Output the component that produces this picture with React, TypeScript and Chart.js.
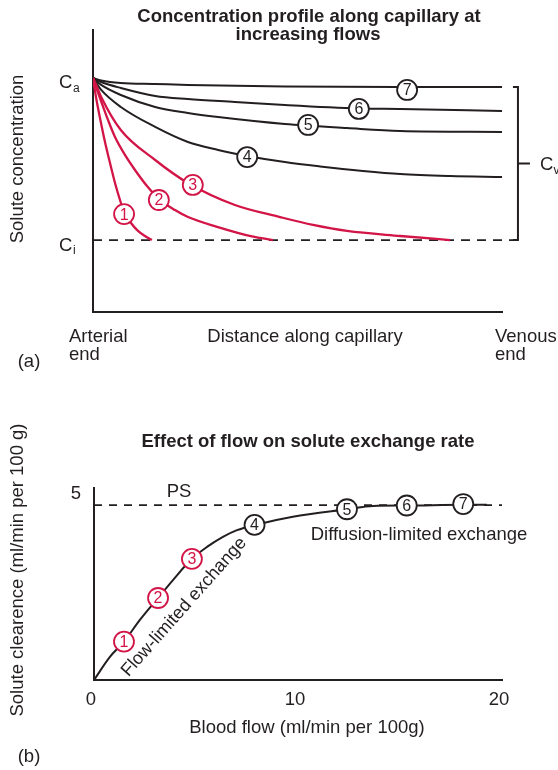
import React, { useEffect, useRef } from "react";
import { Chart, registerables } from "chart.js";

Chart.register(...registerables);

const FONT = "'Liberation Sans', Arial, Helvetica, sans-serif";
const INK = "#231f20";
const RED = "#d21446";

// ---------------- (a) Concentration profile ----------------
const topTitle = ["Concentration profile along capillary at", "increasing flows"];
const topYTitle = "Solute concentration";
const topXTitle = "Distance along capillary";
const topXLeftLabel = ["Arterial", "end"];
const topXRightLabel = ["Venous", "end"];
const topPanelTag = "(a)";
const topYTickValues = [1, 0];
const topYTickMain = ["C", "C"];
const topYTickSub = ["a", "i"];
const venousLabelMain = "C";
const venousLabelSub = "v";
const ciLevel = 0;
const ciLineEndX = 1.039;

// distance along capillary (0 = arterial, 1 = venous) and concentration (Ci = 0, Ca = 1)
const curve1X = [0, 0.0073, 0.0171, 0.0293, 0.0416, 0.0538, 0.066, 0.0758, 0.0929, 0.11, 0.127, 0.144];
const curve1Y = [1, 0.883, 0.753, 0.605, 0.475, 0.352, 0.247, 0.173, 0.105, 0.056, 0.025, 0];
const curve2X = [0, 0.0098, 0.0196, 0.0367, 0.0538, 0.0782, 0.1027, 0.132, 0.1614, 0.2005, 0.2323, 0.3056, 0.3888, 0.4401];
const curve2Y = [1, 0.926, 0.858, 0.741, 0.636, 0.525, 0.432, 0.333, 0.253, 0.185, 0.142, 0.08, 0.022, 0];
const curve3X = [0, 0.0098, 0.02, 0.068, 0.152, 0.232, 0.347, 0.457, 0.538, 0.621, 0.751, 0.873];
const curve3Y = [1, 0.944, 0.883, 0.679, 0.494, 0.352, 0.216, 0.142, 0.093, 0.056, 0.025, 0];
const curve4X = [0, 0.02, 0.068, 0.152, 0.232, 0.306, 0.377, 0.469, 0.555, 0.66, 0.751, 0.873, 1];
const curve4Y = [1, 0.926, 0.821, 0.698, 0.605, 0.556, 0.519, 0.481, 0.454, 0.426, 0.407, 0.395, 0.389];
const curve5X = [0, 0.02, 0.068, 0.152, 0.232, 0.306, 0.469, 0.621, 0.751, 1];
const curve5Y = [1, 0.957, 0.895, 0.821, 0.784, 0.759, 0.716, 0.691, 0.673, 0.667];
const curve6X = [0, 0.02, 0.068, 0.152, 0.232, 0.347, 0.469, 0.65, 0.751, 1];
const curve6Y = [1, 0.975, 0.938, 0.889, 0.87, 0.852, 0.833, 0.812, 0.809, 0.796];
const curve7X = [0, 0.02, 0.068, 0.152, 0.232, 0.469, 0.743, 1];
const curve7Y = [1, 0.985, 0.969, 0.963, 0.957, 0.948, 0.944, 0.944];

const profileMarkerX = [0.076, 0.161, 0.244, 0.377, 0.526, 0.65, 0.768];
const profileMarkerY = [0.16, 0.247, 0.34, 0.512, 0.71, 0.809, 0.926];
const markerLabels = ["1", "2", "3", "4", "5", "6", "7"];

// ---------------- (b) Effect of flow ----------------
const botTitle = "Effect of flow on solute exchange rate";
const botYTitle = "Solute clearence (ml/min per 100 g)";
const botXTitle = "Blood flow (ml/min per 100g)";
const botPanelTag = "(b)";
const botXTicks = [0, 10, 20];
const botYTicks = [5];
const psLevel = 4.69;
const psLabel = "PS";
const flowLimitedLabel = "Flow-limited exchange";
const diffusionLimitedLabel = "Diffusion-limited exchange";

const flowX = [0, 0.78, 1.47, 2.25, 3.14, 3.87, 4.8, 5.54, 6.32, 7.01, 7.89, 9.75, 12.4, 13.68, 15.34, 18.09, 19.26];
const clearanceY = [0, 0.62, 1.03, 1.61, 2.2, 2.68, 3.25, 3.57, 3.84, 4.02, 4.16, 4.38, 4.58, 4.67, 4.68, 4.7, 4.7];
const flowMarkerX = [1.47, 3.14, 4.8, 7.87, 12.4, 15.33, 18.1];
const flowMarkerY = [1.03, 2.2, 3.25, 4.16, 4.58, 4.68, 4.72];

const toPts = (xs: number[], ys: number[]) => xs.map((x, i) => ({ x, y: ys[i] }));
const markerColor = (i: number) => (i < 3 ? RED : INK);

function rotText(ctx: CanvasRenderingContext2D, text: string, x: number, y: number, deg: number) {
  ctx.save();
  ctx.translate(x, y);
  ctx.rotate((deg * Math.PI) / 180);
  ctx.fillText(text, 0, 0);
  ctx.restore();
}

function drawMarkerNumbers(chart: any, dsIndex: number) {
  const ctx = chart.ctx as CanvasRenderingContext2D;
  const meta = chart.getDatasetMeta(dsIndex);
  ctx.save();
  ctx.font = `16px ${FONT}`;
  ctx.textAlign = "center";
  ctx.textBaseline = "middle";
  meta.data.forEach((pt: any, i: number) => {
    ctx.fillStyle = markerColor(i);
    ctx.fillText(markerLabels[i], pt.x, pt.y + 1);
  });
  ctx.restore();
}

const hiddenScale = (min: number, max: number) => ({
  type: "linear" as const,
  min,
  max,
  grid: { display: false, drawTicks: false },
  ticks: { display: false },
  border: { display: true, color: INK, width: 2 },
});

const topPlugin = {
  id: "topAnnotations",
  afterDatasetsDraw(chart: any) {
    const ctx = chart.ctx as CanvasRenderingContext2D;
    const xs = chart.scales.x;
    const ys = chart.scales.y;
    drawMarkerNumbers(chart, 0);
    ctx.save();
    // bracket for venous concentrations
    const bx = xs.getPixelForValue(ciLineEndX);
    const yTop = ys.getPixelForValue(curve7Y[curve7Y.length - 1]);
    const yBot = ys.getPixelForValue(ciLevel);
    ctx.strokeStyle = INK;
    ctx.lineWidth = 2;
    ctx.beginPath();
    ctx.moveTo(bx - 5, yTop);
    ctx.lineTo(bx, yTop);
    ctx.lineTo(bx, yBot);
    ctx.lineTo(bx - 5, yBot);
    const yMid = (yTop + yBot) / 2;
    ctx.moveTo(bx, yMid);
    ctx.lineTo(bx + 12, yMid);
    ctx.stroke();

    ctx.fillStyle = INK;
    // title
    ctx.font = `bold 18.5px ${FONT}`;
    ctx.textAlign = "center";
    ctx.textBaseline = "middle";
    ctx.fillText(topTitle[0], 309, 17);
    ctx.fillText(topTitle[1], 308, 35);
    // y ticks Ca / Ci
    topYTickValues.forEach((v, i) => {
      const py = ys.getPixelForValue(v);
      ctx.textAlign = "left";
      ctx.textBaseline = "alphabetic";
      ctx.font = `18.5px ${FONT}`;
      ctx.fillText(topYTickMain[i], 59, py + 10.5);
      ctx.font = `12px ${FONT}`;
      ctx.fillText(topYTickSub[i], 73, py + 14);
    });
    // Cv
    ctx.font = `18.5px ${FONT}`;
    ctx.fillText(venousLabelMain, 540, yMid + 6.5);
    ctx.font = `12px ${FONT}`;
    ctx.fillText(venousLabelSub, 553.5, yMid + 10);
    // x labels
    ctx.font = `18.5px ${FONT}`;
    ctx.fillText(topXLeftLabel[0], 69, 342);
    ctx.fillText(topXLeftLabel[1], 69, 360);
    ctx.fillText(topXRightLabel[0], 495, 342);
    ctx.fillText(topXRightLabel[1], 495, 360);
    ctx.textAlign = "center";
    ctx.fillText(topXTitle, 305, 342);
    ctx.textBaseline = "middle";
    ctx.fillText(topPanelTag, 29, 362);
    // y title
    rotText(ctx, topYTitle, 18, 159, -90);
    ctx.restore();
  },
};

const botPlugin = {
  id: "botAnnotations",
  afterDatasetsDraw(chart: any) {
    const ctx = chart.ctx as CanvasRenderingContext2D;
    const xs = chart.scales.x;
    const ys = chart.scales.y;
    drawMarkerNumbers(chart, 0);
    ctx.save();
    ctx.fillStyle = INK;
    ctx.font = `bold 18.5px ${FONT}`;
    ctx.textAlign = "center";
    ctx.textBaseline = "middle";
    ctx.fillText(botTitle, 308, 62);
    ctx.font = `18.5px ${FONT}`;
    // ticks
    botXTicks.forEach((v) => {
      ctx.fillText(String(v), xs.getPixelForValue(v) - 3, 320);
    });
    ctx.textAlign = "right";
    botYTicks.forEach((v) => {
      ctx.fillText(String(v), 81, ys.getPixelForValue(v) + 0.5);
    });
    ctx.textAlign = "center";
    ctx.fillText(botXTitle, 307, 348);
    ctx.fillText(botPanelTag, 29, 377);
    ctx.fillText(psLabel, 179, ys.getPixelForValue(psLevel) - 13);
    ctx.fillText(diffusionLimitedLabel, 419, 155);
    ctx.font = `18px ${FONT}`;
    rotText(ctx, flowLimitedLabel, 184, 227, -48.5);
    ctx.font = `18.5px ${FONT}`;
    rotText(ctx, botYTitle, 18, 190, -90);
    ctx.restore();
  },
};

export default function App() {
  const topRef = useRef<HTMLCanvasElement>(null);
  const botRef = useRef<HTMLCanvasElement>(null);

  useEffect(() => {
    const profileCurves = [
      toPts(curve1X, curve1Y),
      toPts(curve2X, curve2Y),
      toPts(curve3X, curve3Y),
      toPts(curve4X, curve4Y),
      toPts(curve5X, curve5Y),
      toPts(curve6X, curve6Y),
      toPts(curve7X, curve7Y),
    ];
    const topChart = new Chart(topRef.current!, {
      type: "line",
      data: {
        datasets: [
          {
            label: "markers",
            data: toPts(profileMarkerX, profileMarkerY),
            showLine: false,
            pointRadius: 10,
            pointBackgroundColor: "#ffffff",
            pointBorderColor: profileMarkerX.map((_, i) => markerColor(i)),
            pointBorderWidth: 1.8,
            order: 0,
          } as any,
          ...profileCurves.map((pts, i) => ({
            label: `flow ${i + 1}`,
            data: pts,
            borderColor: i < 3 ? RED : INK,
            borderWidth: i < 3 ? 2.3 : 2,
            pointRadius: 0,
            cubicInterpolationMode: "monotone" as const,
            fill: false,
            order: 1,
          })),
          {
            label: "Ci",
            data: [
              { x: 0, y: ciLevel },
              { x: ciLineEndX, y: ciLevel },
            ],
            borderColor: INK,
            borderWidth: 1.8,
            borderDash: [9, 7],
            pointRadius: 0,
            clip: false,
            order: 2,
          } as any,
        ],
      },
      options: {
        responsive: false,
        animation: false,
        events: [],
        layout: { padding: { left: 93, right: 56, top: 30, bottom: 68 } },
        plugins: { legend: { display: false }, title: { display: false }, tooltip: { enabled: false } },
        scales: {
          x: hiddenScale(0, 1),
          y: hiddenScale(-0.444, 1.296),
        },
      },
      plugins: [topPlugin],
    });

    const botChart = new Chart(botRef.current!, {
      type: "line",
      data: {
        datasets: [
          {
            label: "markers",
            data: toPts(flowMarkerX, flowMarkerY),
            showLine: false,
            pointRadius: 10,
            pointBackgroundColor: "#ffffff",
            pointBorderColor: flowMarkerX.map((_, i) => markerColor(i)),
            pointBorderWidth: 1.8,
            order: 0,
          } as any,
          {
            label: "clearance",
            data: toPts(flowX, clearanceY),
            borderColor: INK,
            borderWidth: 2,
            pointRadius: 0,
            cubicInterpolationMode: "monotone",
            order: 1,
          } as any,
          {
            label: "PS",
            data: [
              { x: 0, y: psLevel },
              { x: 20, y: psLevel },
            ],
            borderColor: INK,
            borderWidth: 1.8,
            borderDash: [8, 7],
            pointRadius: 0,
            order: 2,
          } as any,
        ],
      },
      options: {
        responsive: false,
        animation: false,
        events: [],
        layout: { padding: { left: 94, right: 56, top: 108, bottom: 90 } },
        plugins: { legend: { display: false }, title: { display: false }, tooltip: { enabled: false } },
        scales: {
          x: hiddenScale(0, 20),
          y: hiddenScale(0, 5.15),
        },
      },
      plugins: [botPlugin],
    });

    return () => {
      topChart.destroy();
      botChart.destroy();
    };
  }, []);

  return (
    <div style={{ position: "absolute", left: 0, top: 0, width: 558, height: 770, background: "#ffffff", overflow: "hidden" }}>
      <canvas ref={topRef} width={558} height={380} style={{ position: "absolute", left: 0, top: 0 }} />
      <canvas ref={botRef} width={558} height={390} style={{ position: "absolute", left: 0, top: 380 }} />
    </div>
  );
}
